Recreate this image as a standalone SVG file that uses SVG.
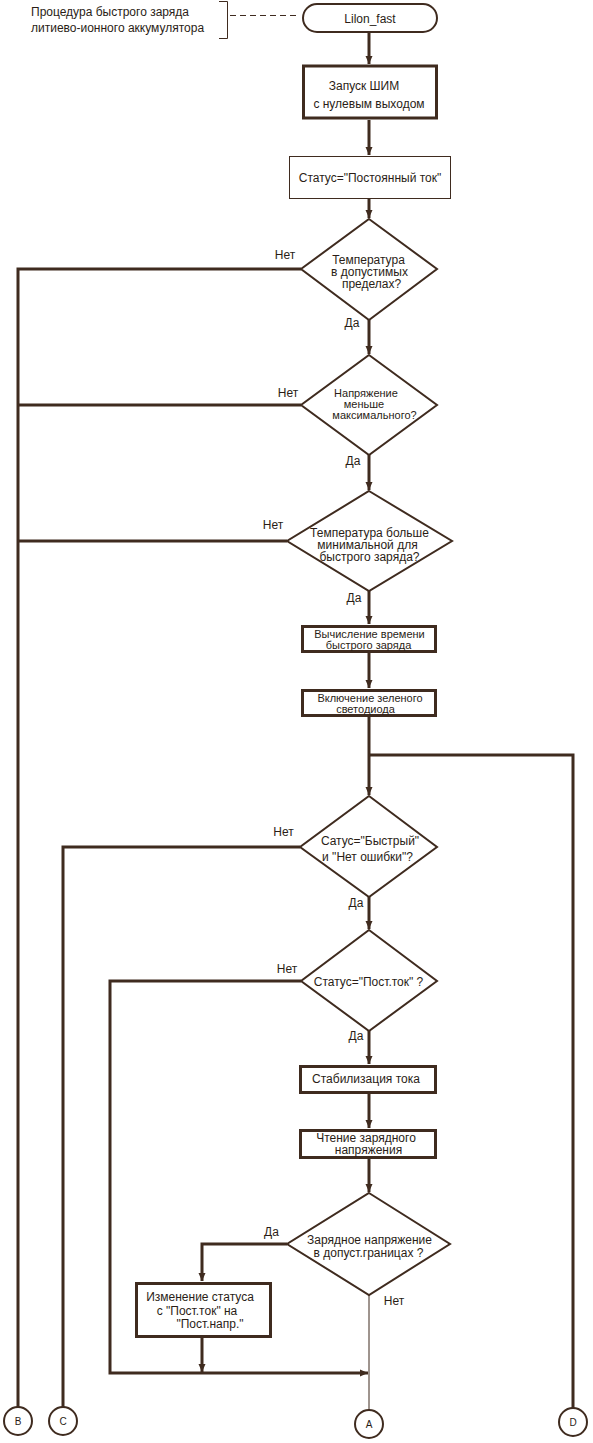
<svg xmlns="http://www.w3.org/2000/svg" width="593" height="1443" viewBox="0 0 593 1443">
<style>
text{font-family:"Liberation Sans",Arial,sans-serif;font-size:12px;fill:#2a1d16;text-anchor:middle;dominant-baseline:central}
.l{text-anchor:start}
.s{font-size:11px}
.c{stroke:#3f2b1f;fill:none;stroke-width:3}
.t{stroke:#3f2b1f;fill:none;stroke-width:1}
.box{fill:#fff;stroke:#3f2b1f;stroke-width:3}
.dia{fill:#fff;stroke:#3f2b1f;stroke-width:2}
.circ{fill:#fff;stroke:#3f2b1f;stroke-width:2}
.sm{font-size:10px}
</style>
<defs>
<marker id="a" viewBox="0 0 8 8" refX="8" refY="4" markerWidth="8" markerHeight="8" markerUnits="userSpaceOnUse" orient="auto"><path d="M0,0.5 L8,4 L0,7.5 z" fill="#3f2b1f"/></marker>
</defs>
<rect width="593" height="1443" fill="#fff"/>
<g id="connectors">
<path class="c" d="M369,32 V64" marker-end="url(#a)"/>
<path class="c" d="M369,120 V155" marker-end="url(#a)"/>
<path class="c" d="M369,199 V218" marker-end="url(#a)"/>
<path class="c" d="M369,320 V354" marker-end="url(#a)"/>
<path class="c" d="M369,455 V490" marker-end="url(#a)"/>
<path class="c" d="M369,591 V624" marker-end="url(#a)"/>
<path class="c" d="M369,653 V688" marker-end="url(#a)"/>
<path class="c" d="M369,717 V795" marker-end="url(#a)"/>
<path class="c" d="M369,755 H573 V1408"/>
<path class="c" d="M369,897 V929" marker-end="url(#a)"/>
<path class="c" d="M369,1031 V1064" marker-end="url(#a)"/>
<path class="c" d="M369,1094 V1128" marker-end="url(#a)"/>
<path class="c" d="M369,1159 V1192" marker-end="url(#a)"/>
<path class="c" d="M301,269 H18 V1407"/>
<path class="c" d="M301,405 H18"/>
<path class="c" d="M287,541 H18"/>
<path class="c" d="M300,847 H63 V1407"/>
<path class="c" d="M301,981 H110 V1373 H368" marker-end="url(#a)"/>
<path class="c" d="M287,1244 H202 V1281" marker-end="url(#a)"/>
<path class="c" d="M202,1338 V1372" marker-end="url(#a)"/>
<path class="t" d="M369,1295 V1410"/>
<path class="t" d="M230,15.5 H300" stroke-dasharray="6,4"/>
<path class="t" d="M219,1.5 H227.5 V38.5 H219"/>
</g>
<g id="comment">
<text class="l" x="31" y="12">Процедура быстрого заряда</text>
<text class="l" x="31" y="28">литиево-ионного аккумулятора</text>
</g>
<g id="start">
<rect x="303" y="4" width="134" height="28" rx="14" ry="14" class="dia"/>
<text x="370" y="19">Lilon_fast</text>
</g>
<g id="n1">
<rect x="303.5" y="66" width="133" height="52" class="box"/>
<text x="364" y="86">Запуск ШИМ</text>
<text x="369" y="104">с нулевым выходом</text>
</g>
<g id="n2">
<rect x="289.5" y="156.5" width="161" height="42" class="t" fill="#fff"/>
<text x="370" y="178">Статус="Постоянный ток"</text>
</g>
<g id="d1">
<polygon points="369,219 437,269 369,320 301,269" class="dia"/>
<text x="368.5" y="259.5">Температура</text>
<text x="369.5" y="271.5">в допустимых</text>
<text x="371.5" y="283.5">пределах?</text>
<text x="285" y="255">Нет</text>
<text x="352" y="323">Да</text>
</g>
<g id="d2">
<polygon points="369,355 437,405 369,455 301,405" class="dia"/>
<text class="s" x="366" y="392.5">Напряжение</text>
<text class="s" x="364" y="403.5">меньше</text>
<text class="s" x="374.5" y="414.5">максимального?</text>
<text x="288" y="393">Нет</text>
<text x="353" y="461">Да</text>
</g>
<g id="d3">
<polygon points="369,491 452,541 369,591 287,541" class="dia"/>
<text x="369.5" y="533">Температура больше</text>
<text x="367.5" y="545">минимальной для</text>
<text x="369.5" y="557">быстрого заряда?</text>
<text x="273" y="525">Нет</text>
<text x="354" y="598">Да</text>
</g>
<g id="n3">
<rect x="302.5" y="626.5" width="133" height="25" class="box"/>
<text class="s" x="369.5" y="633.5">Вычисление времени</text>
<text class="s" x="368.5" y="644.5">быстрого заряда</text>
</g>
<g id="n4">
<rect x="302.5" y="690.5" width="133" height="25" class="box"/>
<text class="s" x="370" y="697.5">Включение зеленого</text>
<text class="s" x="365.5" y="708.5">светодиода</text>
</g>
<g id="d4">
<polygon points="369,796 437,847 369,897 300,847" class="dia"/>
<text x="370" y="841">Сатус="Быстрый"</text>
<text x="367.5" y="857">и "Нет ошибки"?</text>
<text x="283.5" y="832">Нет</text>
<text x="356" y="903">Да</text>
</g>
<g id="d5">
<polygon points="369,930 437,981 369,1031 301,981" class="dia"/>
<text x="368.5" y="982">Статус="Пост.ток" ?</text>
<text x="287" y="969">Нет</text>
<text x="356" y="1036">Да</text>
</g>
<g id="n5">
<rect x="300.5" y="1066.5" width="135" height="26" class="box"/>
<text x="366" y="1079">Стабилизация тока</text>
</g>
<g id="n6">
<rect x="300.5" y="1130.5" width="135" height="27" class="box"/>
<text x="366" y="1138">Чтение зарядного</text>
<text x="368.5" y="1149.5">напряжения</text>
</g>
<g id="d6">
<polygon points="369,1193 450,1244 369,1295 287,1244" class="dia"/>
<text x="369.5" y="1240">Зарядное напряжение</text>
<text x="368.5" y="1253">в допуст.границах ?</text>
<text x="271.5" y="1232">Да</text>
<text x="394" y="1301">Нет</text>
</g>
<g id="n7">
<rect x="136.5" y="1283.5" width="134" height="53" class="box"/>
<text x="200" y="1297">Изменение статуса</text>
<text x="197" y="1311">с "Пост.ток" на</text>
<text x="210" y="1324">"Пост.напр."</text>
</g>
<g id="cB"><circle cx="18" cy="1421" r="14" class="circ"/><text class="sm" x="18" y="1421">B</text></g>
<g id="cC"><circle cx="63" cy="1421" r="14" class="circ"/><text class="sm" x="63" y="1421">C</text></g>
<g id="cA"><circle cx="369" cy="1424" r="14" class="circ"/><text class="sm" x="369" y="1424">A</text></g>
<g id="cD"><circle cx="573" cy="1422" r="14" class="circ"/><text class="sm" x="573" y="1422">D</text></g>
</svg>
